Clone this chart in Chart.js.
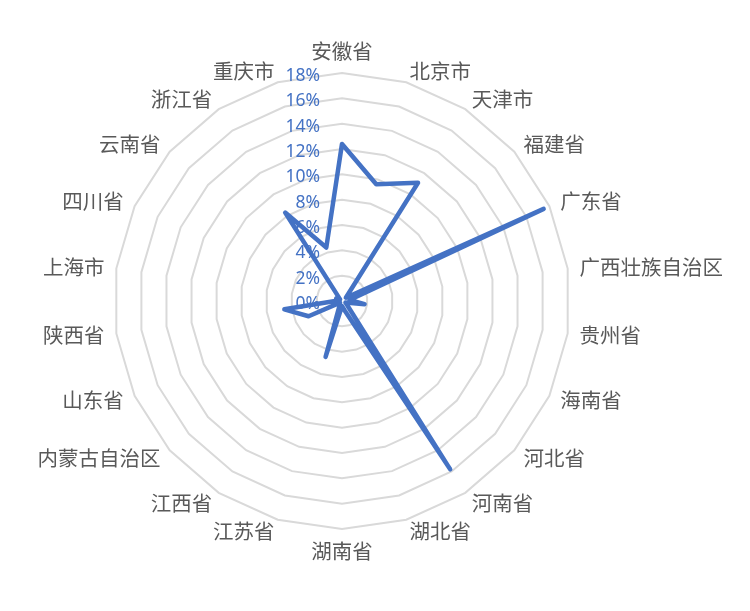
<!DOCTYPE html>
<html>
<head>
<meta charset="utf-8">
<script src="https://cdn.jsdelivr.net/npm/chart.js@4"></script>
<style>
  html, body { margin: 0; padding: 0; background: #fff; }
  #wrap { width: 750px; height: 611px; }
</style>
</head>
<body>
<div id="wrap"><canvas id="radarChart"></canvas></div>
<script>
const provinces = ['安徽省', '北京市', '天津市', '福建省', '广东省', '广西壮族自治区', '贵州省', '海南省',
  '河北省', '河南省', '湖北省', '湖南省', '江苏省', '江西省', '内蒙古自治区', '山东省', '陕西省',
  '上海市', '四川省', '云南省', '浙江省', '重庆市'];
const shares = [12.4, 9.6, 11.1, 0.4, 17.5, 0.6, 1.8, 0.3, 0.6, 15.8, 0.8, 0.4, 4.6, 0.3, 0.2, 2.9, 4.6,
  0.3, 0.5, 0.2, 8.3, 4.4];
const tickValues = [0, 2, 4, 6, 8, 10, 12, 14, 16, 18];

// tick labels sit left of the vertical axis, right aligned
const tickLabelPlugin = {
  id: 'tickLabels',
  afterDatasetsDraw(chart) {
    const scale = chart.scales.r;
    const ctx = chart.ctx;
    ctx.save();
    ctx.font = '17.5px "Noto Sans", "Open Sans", sans-serif';
    ctx.fillStyle = '#4472C4';
    ctx.textAlign = 'right';
    ctx.textBaseline = 'middle';
    tickValues.forEach(v => {
      const y = scale.yCenter - scale.getDistanceFromCenterForValue(v);
      ctx.fillText(v + '%', scale.xCenter - 22, y + 3);
    });
    ctx.restore();
  }
};

// category labels placed like the office chart: beside the ring, vertically centred
const categoryLabelPlugin = {
  id: 'categoryLabels',
  afterDraw(chart) {
    const scale = chart.scales.r;
    const ctx = chart.ctx;
    ctx.save();
    ctx.font = '20.5px "Noto Sans CJK SC", sans-serif';
    ctx.fillStyle = '#595959';
    provinces.forEach((name, i) => {
      const pos = scale.getPointPosition(i, scale.drawingArea + 12);
      const deg = Math.round(scale.getIndexAngle(i) * 180 / Math.PI) % 360;
      if (deg === 0) {
        ctx.textAlign = 'center';
        ctx.textBaseline = 'bottom';
      } else if (deg === 180) {
        ctx.textAlign = 'center';
        ctx.textBaseline = 'top';
      } else {
        ctx.textAlign = deg < 180 ? 'left' : 'right';
        ctx.textBaseline = 'middle';
      }
      ctx.fillText(name, pos.x, pos.y);
    });
    ctx.restore();
  }
};

new Chart(document.getElementById('radarChart'), {
  type: 'radar',
  data: {
    labels: provinces,
    datasets: [{
      data: shares,
      borderColor: '#4472C4',
      backgroundColor: 'rgba(0,0,0,0)',
      borderWidth: 4.5,
      borderJoinStyle: 'round',
      borderCapStyle: 'round',
      pointRadius: 0,
      pointHoverRadius: 0,
      tension: 0,
      fill: false
    }]
  },
  options: {
    responsive: true,
    maintainAspectRatio: false,
    animation: false,
    layout: { padding: { top: 73, bottom: 82, left: 0, right: 66 } },
    plugins: {
      legend: { display: false },
      tooltip: { enabled: false }
    },
    scales: {
      r: {
        min: 0,
        max: 18,
        startAngle: 0,
        ticks: { stepSize: 2, display: false },
        grid: { color: '#D9D9D9', lineWidth: 2, circular: false },
        angleLines: { display: false },
        pointLabels: { display: false }
      }
    }
  },
  plugins: [tickLabelPlugin, categoryLabelPlugin]
});
</script>
</body>
</html>
